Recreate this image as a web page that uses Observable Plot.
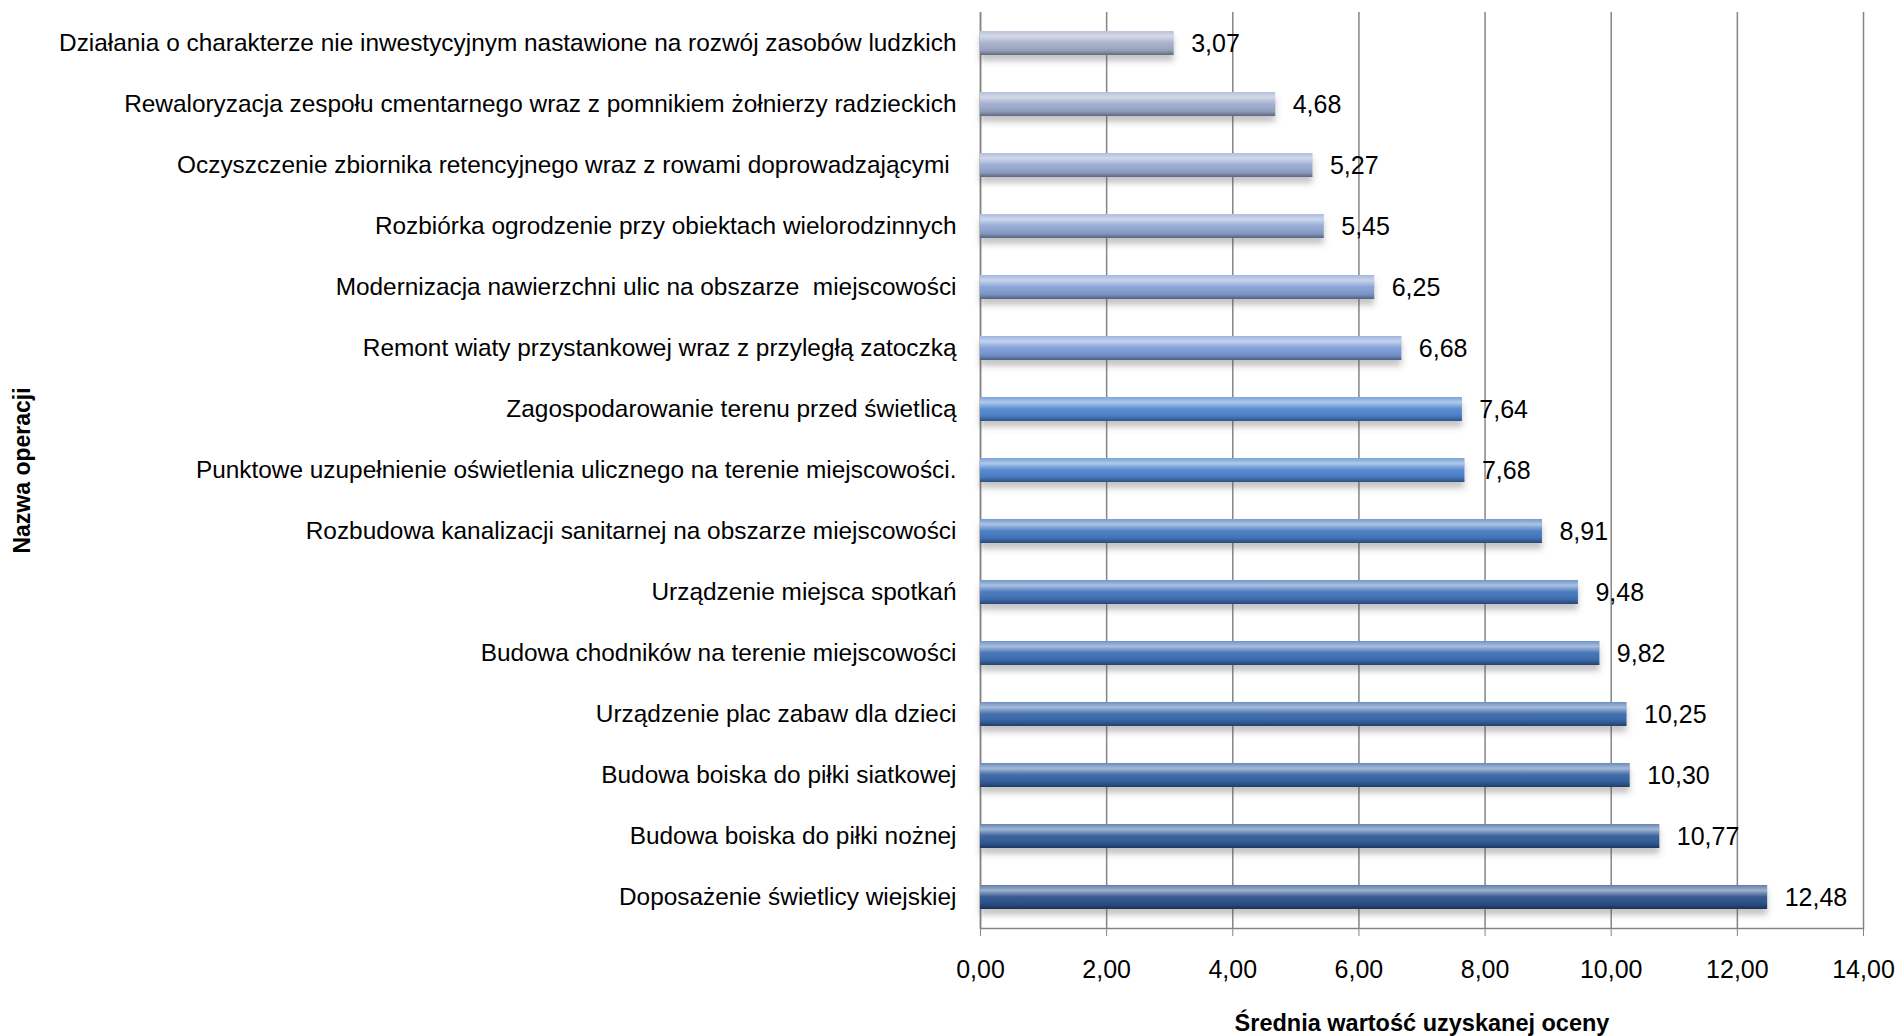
<!DOCTYPE html>
<html>
<head>
<meta charset="utf-8">
<script src="https://cdn.jsdelivr.net/npm/d3@7"></script>
<script src="https://cdn.jsdelivr.net/npm/@observablehq/plot@0.6"></script>
<style>
  html, body { margin: 0; padding: 0; background: #fff; }
  #chart svg { display: block; }
</style>
</head>
<body>
<div id="chart"></div>
<script>
const categories = [
  "Działania o charakterze nie inwestycyjnym nastawione na rozwój zasobów ludzkich",
  "Rewaloryzacja zespołu cmentarnego wraz z pomnikiem żołnierzy radzieckich",
  "Oczyszczenie zbiornika retencyjnego wraz z rowami doprowadzającymi ",
  "Rozbiórka ogrodzenie przy obiektach wielorodzinnych",
  "Modernizacja nawierzchni ulic na obszarze  miejscowości",
  "Remont wiaty przystankowej wraz z przyległą zatoczką",
  "Zagospodarowanie terenu przed świetlicą",
  "Punktowe uzupełnienie oświetlenia ulicznego na terenie miejscowości.",
  "Rozbudowa kanalizacji sanitarnej na obszarze miejscowości",
  "Urządzenie miejsca spotkań",
  "Budowa chodników na terenie miejscowości",
  "Urządzenie plac zabaw dla dzieci",
  "Budowa boiska do piłki siatkowej",
  "Budowa boiska do piłki nożnej",
  "Doposażenie świetlicy wiejskiej"
];
const values = [3.07, 4.68, 5.27, 5.45, 6.25, 6.68, 7.64, 7.68, 8.91, 9.48, 9.82, 10.25, 10.30, 10.77, 12.48];
const xTicks = [0, 2, 4, 6, 8, 10, 12, 14];
const xTitle = "Średnia wartość uzyskanej oceny";
const yTitle = "Nazwa operacji";

// style: base colours of the bars, top to bottom
const barColors = ["#a3aecb", "#9eabcd", "#98a9d1", "#91a6d4", "#85a0d5", "#7b9bd6",
  "#4f86d0", "#4c83cd", "#4679c2", "#4274bc", "#3e6fb5", "#3a69ac", "#3663a4", "#315c9a", "#2b528c"];

const data = categories.map((c, i) => ({name: c, value: values[i]}));
const fmt = v => v.toFixed(2).replace(".", ",");
const font = "'Liberation Sans', Arial, sans-serif";

const chart = Plot.plot({
  width: 1897,
  height: 1036,
  marginLeft: 980,
  marginRight: 34,
  marginTop: 12,
  marginBottom: 108,
  style: {fontFamily: font, background: "#fff", color: "#000"},
  x: {domain: [0, 14]},
  y: {domain: categories, paddingInner: 0.6, paddingOuter: 0.3},
  color: {domain: categories, range: barColors},
  marks: [
    Plot.gridX(xTicks, {stroke: "#858585", strokeOpacity: 1, strokeWidth: 1.5}),
    Plot.ruleX([0], {stroke: "#858585", strokeWidth: 1.5}),
    Plot.frame({anchor: "bottom", stroke: "#858585", strokeWidth: 1.5}),
    Plot.barX(data, {x: "value", y: "name", fill: "name", dy: 6, className: "shadow", fillOpacity: 0.35}),
    Plot.barX(data, {x: "value", y: "name", fill: "name"}),
    Plot.barX(data, {x: "value", y: "name", fill: "url(#shade)"}),
    Plot.text(data, {x: "value", y: "name", text: d => fmt(d.value), textAnchor: "start", dx: 17, fontSize: 25, fill: "#000"}),
    Plot.axisY({tickSize: 0, tickPadding: 24, fontSize: 24.4, label: null}),
    Plot.axisX({ticks: xTicks, tickFormat: fmt, tickSize: 8, tickPadding: 24, fontSize: 25, label: null, stroke: "#858585"}),
    Plot.text([xTitle], {frameAnchor: "bottom", dy: 102, fontWeight: "bold", fontSize: 23.5, fill: "#000"}),
    Plot.text([yTitle], {frameAnchor: "left", textAnchor: "middle", rotate: -90, dx: -958, fontWeight: "bold", fontSize: 23, fill: "#000"})
  ]
});

// gradient + shadow definitions for the bevelled bar look
const ns = "http://www.w3.org/2000/svg";
const defs = document.createElementNS(ns, "defs");
defs.innerHTML = `
  <linearGradient id="shade" x1="0" y1="0" x2="0" y2="1">
    <stop offset="0" stop-color="#fff" stop-opacity="0.25"/>
    <stop offset="0.22" stop-color="#fff" stop-opacity="0.55"/>
    <stop offset="0.5" stop-color="#fff" stop-opacity="0.05"/>
    <stop offset="0.82" stop-color="#000" stop-opacity="0.1"/>
    <stop offset="1" stop-color="#000" stop-opacity="0.4"/>
  </linearGradient>
  <filter id="blur" x="-5%" y="-50%" width="110%" height="200%">
    <feGaussianBlur stdDeviation="3"/>
  </filter>`;
chart.insertBefore(defs, chart.firstChild);
chart.querySelectorAll("g.shadow rect").forEach(r => { r.setAttribute("fill", "#555"); r.setAttribute("filter", "url(#blur)"); });
document.getElementById("chart").appendChild(chart);
</script>
</body>
</html>
